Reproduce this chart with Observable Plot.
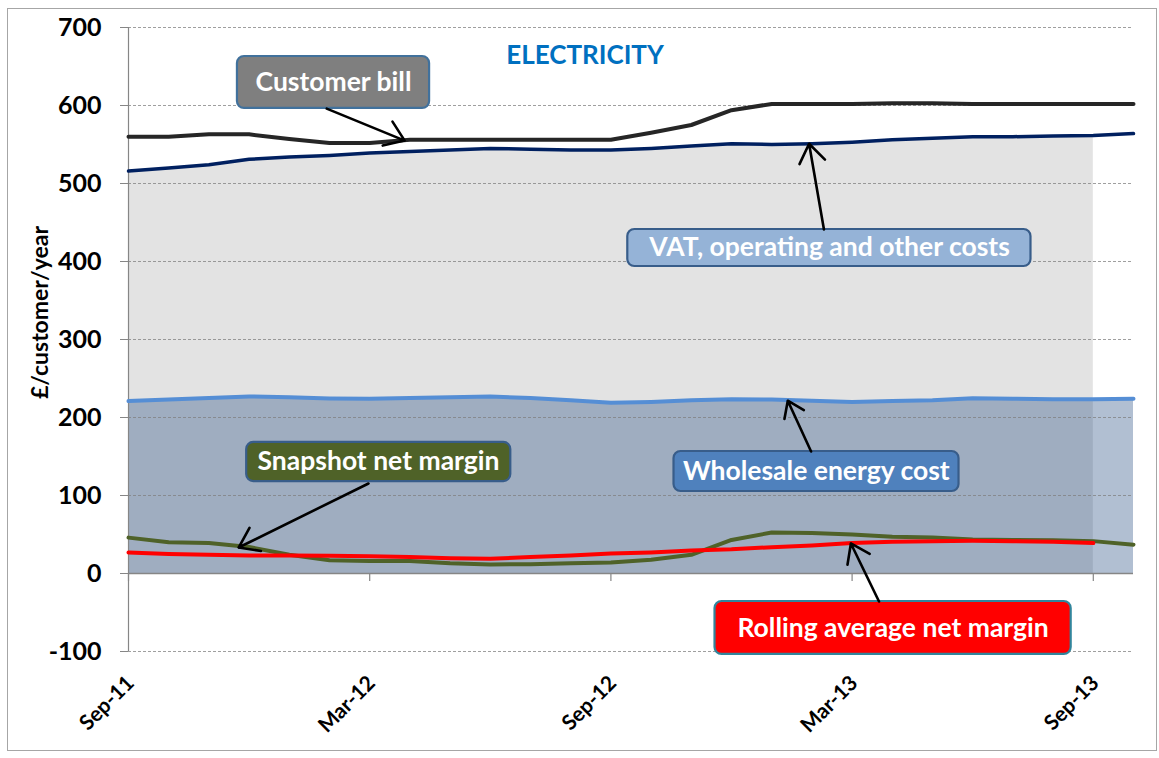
<!DOCTYPE html>
<html>
<head>
<meta charset="utf-8">
<script src="https://cdn.jsdelivr.net/npm/d3@7"></script>
<script src="https://cdn.jsdelivr.net/npm/@observablehq/plot@0.6"></script>
<style>
  html, body { margin: 0; padding: 0; background: #fff; }
  #wrap { position: relative; width: 1159px; height: 758px; overflow: hidden; }
  #border { position: absolute; left: 7px; top: 8px; width: 1148px; height: 741px; border: 1.5px solid #a6a6a6; pointer-events: none; }
  svg { display: block; }
</style>
</head>
<body>
<div id="wrap"><div id="border"></div></div>
<script>
// ---- data (monthly, Sep-11 .. Oct-13) ----
const months = ["Sep-11","Oct-11","Nov-11","Dec-11","Jan-12","Feb-12","Mar-12","Apr-12","May-12","Jun-12","Jul-12","Aug-12",
                "Sep-12","Oct-12","Nov-12","Dec-12","Jan-13","Feb-13","Mar-13","Apr-13","May-13","Jun-13","Jul-13","Aug-13","Sep-13","Oct-13"];
const customerBill = [560,560,563,563,557,552,552,556,556,556,556,556,556,565,575,594,602,602,602,603,603,602,602,602,602,602];
const otherCosts   = [516,520,524,531,534,536,539,541,543,545,544,543,543,545,548,551,550,551,553,556,558,560,560,561,561.5,564];
const wholesale    = [221,223,225,227,226,224.5,224,225,226,227,225,222,219,220,222,223.5,223,221.5,220,221,222,224.8,224,223.5,223.5,224];
const snapshot     = [46,40,39,34,24,17,16,16,13,11.5,12,13,14,17.5,24,43,52.5,52,50,47,46,43.6,43,42.5,41.5,37];
const rolling      = [27,25,24,23,23,22.6,22,21,19.7,19,21,23,25.5,27,29.5,31,33.7,36,39,40.6,41.5,42,41.5,40.6,39];
const yTicks = [-100,0,100,200,300,400,500,600,700];
const xTickIdx = [0,6,12,18,24];
const lastActual = 24; // Sep-13

const rows = months.map((m, i) => ({
  i, m,
  bill: customerBill[i], vat: otherCosts[i], wholesale: wholesale[i],
  snapshot: snapshot[i], rolling: i < rolling.length ? rolling[i] : null
}));

// annotation call-outs (data space: month index, £)
const notes = [
  {label: "Customer bill", cx: 5.1, cy: 629.5, x1: 2.71, x2: 7.49, y1: 596.2, y2: 662.8, fill: "#7f7f7f", stroke: "#41719c",
   ax1: 4.93, ay1: 596, ax2: 6.87, ay2: 555},
  {label: "VAT, operating and other costs", cx: 17.44, cy: 417.3, x1: 12.42, x2: 22.45, y1: 393.6, y2: 441, fill: "#95b3d7", stroke: "#385d8a",
   ax1: 17.3, ay1: 441, ax2: 16.93, ay2: 551},
  {label: "Wholesale energy cost", cx: 17.11, cy: 130.8, x1: 13.57, x2: 20.66, y1: 105.1, y2: 156.4, fill: "#4f81bd", stroke: "#385d8a",
   ax1: 16.98, ay1: 156.4, ax2: 16.4, ay2: 221.5},
  {label: "Snapshot net margin", cx: 6.22, cy: 143, x1: 2.94, x2: 9.51, y1: 117.9, y2: 168, fill: "#4f6228", stroke: "#385d8a",
   ax1: 5.97, ay1: 115.4, ax2: 2.74, ay2: 33.3},
  {label: "Rolling average net margin", cx: 19.02, cy: -69.9, x1: 14.59, x2: 23.45, y1: -103.8, y2: -35.9, fill: "#ff0000", stroke: "#31859c",
   ax1: 18.67, ay1: -35.9, ax2: 17.97, ay2: 38.5}
];

const chart = Plot.plot({
  width: 1159, height: 758,
  marginLeft: 128, marginRight: 26, marginTop: 27, marginBottom: 107,
  x: {type: "linear", domain: [0, months.length - 1], axis: null},
  y: {domain: [-100, 700], axis: null},
  style: {fontFamily: "Lato, 'Open Sans', sans-serif", background: "transparent", overflow: "visible"},
  marks: [
    Plot.areaY(rows.filter(d => d.i <= lastActual), {x: "i", y1: 0, y2: "vat", fill: "#e3e3e3"}),
    Plot.areaY(rows, {x: "i", y1: 0, y2: "wholesale", fill: "#1f497d", fillOpacity: 0.35}),
    Plot.gridY(yTicks, {stroke: "#7f7f7f", strokeOpacity: 0.75, strokeDasharray: "3,2"}),
    Plot.ruleX([0], {y1: -100, y2: 700, stroke: "#868686", strokeWidth: 1.2}),
    Plot.ruleY([0], {stroke: "#868686", strokeWidth: 1.5}),
    Plot.axisY({ticks: yTicks, tickSize: 8, tickFormat: () => "", stroke: "#868686", label: null}),
    Plot.ruleX(xTickIdx, {x: d => d, y1: 0, y2: 0, insetBottom: -8, stroke: "#868686", strokeWidth: 1.2}),
    Plot.text(yTicks, {y: d => d, frameAnchor: "left", text: d => String(d), textAnchor: "end", dx: -27,
      fontSize: 25, fontWeight: "bold", fill: "#000"}),
    Plot.text(xTickIdx, {x: d => d, frameAnchor: "bottom", text: d => months[d], rotate: -45, textAnchor: "end",
      lineAnchor: "middle", dx: 2, dy: 28, fontSize: 21, fontWeight: "bold", fill: "#000"}),
    Plot.text(["£/customer/year"], {frameAnchor: "left", rotate: -90, textAnchor: "middle", dx: -88, dy: -27,
      fontSize: 23, fontWeight: "bold", fill: "#000"}),
    Plot.text(["ELECTRICITY"], {frameAnchor: "top", dx: -46, dy: 18, fontSize: 26, fontWeight: "bold", fill: "#0070c0"}),

    Plot.line(rows, {x: "i", y: "wholesale", stroke: "#558ed5", strokeWidth: 4}),
    Plot.line(rows, {x: "i", y: "vat", stroke: "#002060", strokeWidth: 3.5}),
    Plot.line(rows, {x: "i", y: "bill", stroke: "#262626", strokeWidth: 4}),
    Plot.line(rows, {x: "i", y: "snapshot", stroke: "#4f6228", strokeWidth: 4}),
    Plot.line(rows.filter(d => d.rolling != null), {x: "i", y: "rolling", stroke: "#ff0000", strokeWidth: 4}),

    Plot.rect(notes, {x1: "x1", x2: "x2", y1: "y1", y2: "y2", fill: d => d.fill, stroke: d => d.stroke, strokeWidth: 2.2, rx: 7, ry: 7}),
    Plot.text(notes, {x: "cx", y: "cy", text: "label", fill: "#fff", fontSize: 26.5, fontWeight: "bold"}),
    Plot.arrow(notes, {x1: "ax1", y1: "ay1", x2: "ax2", y2: "ay2", stroke: "#000", strokeWidth: 2.6, headLength: 13, headAngle: 70})
  ]
});
document.getElementById("wrap").prepend(chart);
</script>
</body>
</html>
